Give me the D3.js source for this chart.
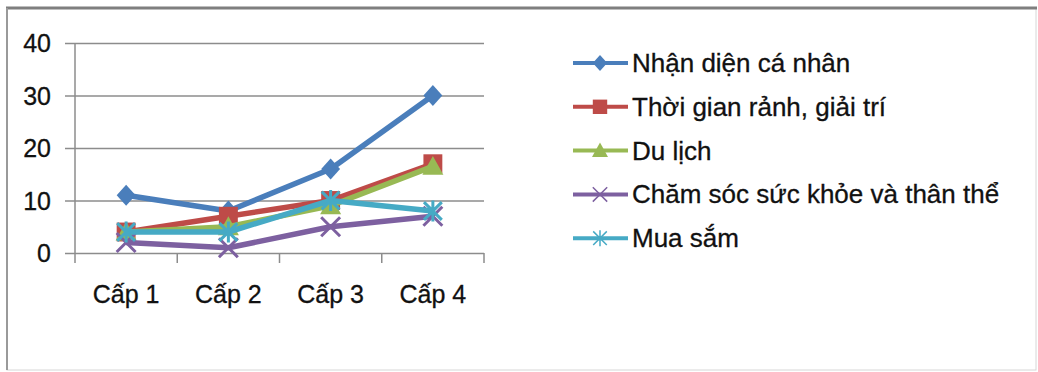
<!DOCTYPE html>
<html lang="vi">
<head>
<meta charset="UTF-8">
<script src="https://d3js.org/d3.v7.min.js"></script>
<title>Chart</title>
<style>
  body { margin: 0; background: #fff; }
  text { font-family: "Liberation Sans", Arial, sans-serif; fill: #111; stroke: #111; stroke-width: 0.3px; }
</style>
</head>
<body>
<script>
// data
var categories = ["Cấp 1", "Cấp 2", "Cấp 3", "Cấp 4"];
var yTicks = [0, 10, 20, 30, 40];
var seriesNames = ["Nhận diện cá nhân", "Thời gian rảnh, giải trí", "Du lịch", "Chăm sóc sức khỏe và thân thể", "Mua sắm"];
var nhanDien = [11, 8, 16, 30];
var thoiGian = [4, 7, 10, 17];
var duLich = [4, 5, 9, 16.5];
var chamSoc = [2, 1, 5, 7];
var muaSam = [4, 4, 10, 8];

var colors = ["#4A7EBB", "#BE4B48", "#98B954", "#7D60A0", "#46AAC5"];
var markers = ["diamond", "square", "triangle", "x", "star"];
var series = [nhanDien, thoiGian, duLich, chamSoc, muaSam].map(function (v, i) {
  return { name: seriesNames[i], values: v, color: colors[i], marker: markers[i] };
});

var W = 1038, H = 372;
var svg = d3.select("body").append("svg").attr("width", W).attr("height", H);

// outer frame
svg.append("rect").attr("x", 7).attr("y", 8).attr("width", 1029).attr("height", 362)
  .attr("fill", "#fff").attr("stroke", "#d6d6d6").attr("stroke-width", 1);
svg.append("line").attr("x1", 6).attr("x2", 1037).attr("y1", 8).attr("y2", 8)
  .attr("stroke", "#7f7f7f").attr("stroke-width", 3);
svg.append("line").attr("x1", 7).attr("x2", 7).attr("y1", 8).attr("y2", 370)
  .attr("stroke", "#9a9a9a").attr("stroke-width", 2);

var x = d3.scaleBand().domain(categories).range([75, 484]);
var y = d3.scaleLinear().domain([0, 40]).range([253, 43]);

// gridlines + y axis
var yAxis = d3.axisLeft(y).tickValues(yTicks).tickSize(-(484 - 65)).tickPadding(14);
var gy = svg.append("g").attr("transform", "translate(65,0)").call(yAxis);
gy.select(".domain").remove();
gy.selectAll("line").attr("stroke", "#8c8c8c").attr("stroke-width", 1.5);
gy.selectAll("text").style("font-size", "25px").attr("dy", "0.35em");

svg.append("line").attr("x1", 75).attr("x2", 75).attr("y1", 43).attr("y2", 253)
  .attr("stroke", "#8c8c8c").attr("stroke-width", 1.5);

// x axis
var xAxis = d3.axisBottom(x).tickSize(0).tickPadding(32);
var gx = svg.append("g").attr("transform", "translate(0,253)").call(xAxis);
gx.select(".domain").remove();
gx.selectAll("text").style("font-size", "25px").attr("dy", "0.71em");
var bounds = [0, 1, 2, 3, 4].map(function (i) { return 75 + i * x.step(); });
svg.selectAll(".xtick").data(bounds).enter().append("line")
  .attr("x1", function (d) { return d; }).attr("x2", function (d) { return d; })
  .attr("y1", 253).attr("y2", 263)
  .attr("stroke", "#8c8c8c").attr("stroke-width", 1.5);

function drawMarker(g, type, color, s, w) {
  if (type === "diamond") {
    g.append("path").attr("d", "M0," + (-s) + "L" + s * 0.9 + ",0L0," + s + "L" + (-s * 0.9) + ",0Z").attr("fill", color);
  } else if (type === "square") {
    g.append("rect").attr("x", -s * 0.9).attr("y", -s * 0.9).attr("width", s * 1.8).attr("height", s * 1.8).attr("fill", color);
  } else if (type === "triangle") {
    g.append("path").attr("d", "M0," + (-s) + "L" + s + "," + s * 0.8 + "L" + (-s) + "," + s * 0.8 + "Z").attr("fill", color);
  } else if (type === "x") {
    var k = s * 0.9;
    g.append("path").attr("d", "M" + (-k) + "," + (-k) + "L" + k + "," + k + "M" + k + "," + (-k) + "L" + (-k) + "," + k)
      .attr("stroke", color).attr("stroke-width", w).attr("fill", "none");
  } else if (type === "star") {
    var k2 = s * 0.85;
    g.append("path").attr("d", "M" + (-k2) + "," + (-k2) + "L" + k2 + "," + k2 + "M" + k2 + "," + (-k2) + "L" + (-k2) + "," + k2 + "M0," + (-s) + "L0," + s)
      .attr("stroke", color).attr("stroke-width", w).attr("fill", "none");
  }
}

var line = d3.line()
  .x(function (d, i) { return x(categories[i]) + x.bandwidth() / 2; })
  .y(function (d) { return y(d); });

series.forEach(function (s) {
  var g = svg.append("g");
  g.append("path").attr("d", line(s.values)).attr("fill", "none")
    .attr("stroke", s.color).attr("stroke-width", 5.5).attr("stroke-linejoin", "round");
  s.values.forEach(function (v, i) {
    var m = g.append("g").attr("transform", "translate(" + (x(categories[i]) + x.bandwidth() / 2) + "," + y(v) + ")");
    drawMarker(m, s.marker, s.color, 10.5, 3);
  });
});

// legend
var legend = svg.append("g");
series.forEach(function (s, i) {
  var ly = 63 + i * 43.8;
  var g = legend.append("g").attr("transform", "translate(0," + ly + ")");
  g.append("line").attr("x1", 573).attr("x2", 628).attr("y1", 0).attr("y2", 0)
    .attr("stroke", s.color).attr("stroke-width", 4);
  var m = g.append("g").attr("transform", "translate(600,0)");
  drawMarker(m, s.marker, s.color, 8, 1.5);
  g.append("text").attr("x", 632).attr("y", 9).style("font-size", "26px").text(s.name);
});
</script>
</body>
</html>
